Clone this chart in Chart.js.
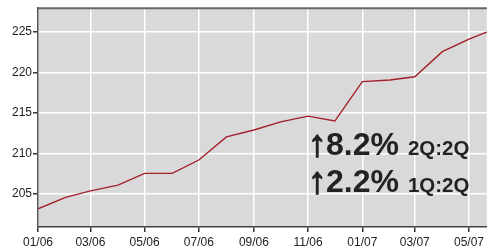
<!DOCTYPE html>
<html>
<head>
<meta charset="utf-8">
<script src="https://cdn.jsdelivr.net/npm/chart.js@4/dist/chart.umd.min.js"></script>
<style>
  html, body { margin: 0; padding: 0; background: #ffffff; }
  #wrap { width: 487px; height: 252px; position: relative; }
</style>
</head>
<body>
<div id="wrap"><canvas id="c" width="487" height="252"></canvas></div>
<script>
// ---- data ----
const months = ["2006-01","2006-02","2006-03","2006-04","2006-05","2006-06","2006-07","2006-08","2006-09","2006-10","2006-11","2006-12","2007-01","2007-02","2007-03","2007-04","2007-05","2007-06"];
const values = [203.2, 204.6, 205.4, 206.1, 207.55, 207.55, 209.2, 212.05, 212.9, 213.9, 214.6, 214.0, 218.85, 219.05, 219.45, 222.55, 224.1, 225.45];
const xTickMonths = ["2006-01","2006-03","2006-05","2006-07","2006-09","2006-11","2007-01","2007-03","2007-05"];
const xTickLabels = ["01/06","03/06","05/06","07/06","09/06","11/06","01/07","03/07","05/07"];
const yTicks = [205, 210, 215, 220, 225];
const arrows = ["\u2191", "\u2191"];
const bigTexts = ["8.2%", "2.2%"];
const smallTexts = ["2Q:2Q", "1Q:2Q"];

// days since 2006-01-01
function dayNum(m) {
  const [y, mo] = m.split("-").map(Number);
  return Math.round((Date.UTC(y, mo - 1, 1) - Date.UTC(2006, 0, 1)) / 86400000);
}
const points = months.map((m, i) => ({ x: dayNum(m), y: values[i] }));
const xTickVals = xTickMonths.map(dayNum);

const bgPlugin = {
  id: 'bg',
  beforeDraw(chart) {
    const { ctx, chartArea: a } = chart;
    ctx.save();
    ctx.fillStyle = '#d9d9d9';
    ctx.fillRect(a.left, a.top, a.right - a.left, a.bottom - a.top);
    ctx.restore();
  },
  afterDraw(chart) {
    const { ctx, chartArea: a } = chart;
    ctx.save();
    ctx.strokeStyle = '#666666';
    ctx.lineWidth = 2;
    ctx.beginPath();
    ctx.moveTo(a.left, a.top);
    ctx.lineTo(a.right, a.top);
    ctx.stroke();
    // annotations
    ctx.fillStyle = '#222222';
    ctx.strokeStyle = '#222222';
    ctx.textBaseline = 'alphabetic';
    const x0 = a.left + 271;
    const baselines = [a.top + 147, a.top + 184];
    for (let i = 0; i < bigTexts.length; i++) {
      ctx.font = 'bold 37px "Liberation Sans", Arial, sans-serif';
      ctx.lineWidth = 1.3;
      ctx.fillText(arrows[i], x0 - 1, baselines[i] + 1);
      ctx.strokeText(arrows[i], x0 - 1, baselines[i] + 1);
      ctx.font = 'bold 32px "Liberation Sans", Arial, sans-serif';
      ctx.fillText(bigTexts[i], x0 + 17, baselines[i]);
      const w = ctx.measureText(bigTexts[i]).width;
      ctx.font = 'bold 20.5px "Liberation Sans", Arial, sans-serif';
      ctx.fillText(smallTexts[i], x0 + 17 + w + 9, baselines[i]);
    }
    ctx.restore();
  }
};

new Chart(document.getElementById('c'), {
  type: 'line',
  data: {
    datasets: [{
      data: points,
      borderColor: '#a3202a',
      borderWidth: 1.4,
      pointRadius: 0,
      tension: 0,
      fill: false
    }]
  },
  options: {
    responsive: false,
    animation: false,
    layout: { padding: { top: 8, right: 0, left: 0, bottom: 0 } },
    plugins: { legend: { display: false }, tooltip: { enabled: false } },
    scales: {
      x: {
        type: 'linear',
        min: 0,
        max: 505,
        afterBuildTicks(s) { s.ticks = xTickVals.map(v => ({ value: v })); },
        afterFit(s) { s.height = 25; },
        ticks: {
          autoSkip: false,
          maxRotation: 0,
          padding: 3,
          color: '#222222',
          font: { family: '"Liberation Sans", Arial, sans-serif', size: 12 },
          callback: (v) => { const i = xTickVals.indexOf(v); return i >= 0 ? xTickLabels[i] : ''; }
        },
        grid: { color: '#ffffff', lineWidth: 1.5, tickColor: '#333333', tickLength: 5, drawTicks: true },
        border: { display: true, color: '#444444', width: 1.5 }
      },
      y: {
        min: 200.95,
        max: 227.9,
        afterBuildTicks(s) { s.ticks = yTicks.map(v => ({ value: v })); },
        afterFit(s) { s.width = 38; },
        ticks: {
          padding: 1,
          color: '#222222',
          font: { family: '"Liberation Sans", Arial, sans-serif', size: 12 }
        },
        grid: { color: '#ffffff', lineWidth: 1.5, tickColor: '#333333', tickLength: 5, drawTicks: true },
        border: { display: true, color: '#555555', width: 1.5 }
      }
    }
  },
  plugins: [bgPlugin]
});
</script>
</body>
</html>
